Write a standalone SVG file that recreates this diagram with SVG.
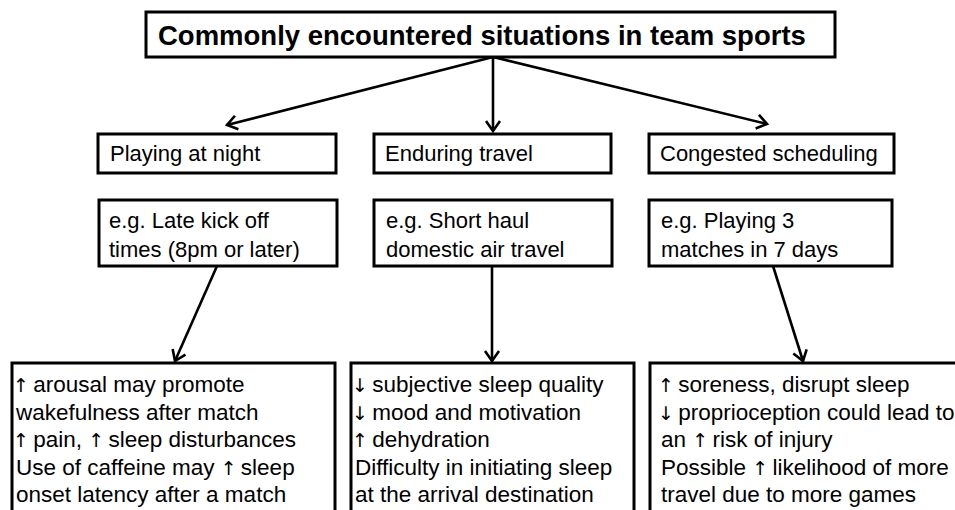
<svg xmlns="http://www.w3.org/2000/svg" width="955" height="510" viewBox="0 0 955 510">
<defs>
<style>
.box{fill:#fff;stroke:#000;stroke-width:3}
.t{font-family:"Liberation Sans",Arial,sans-serif;font-size:22px;fill:#000}
.b{font-family:"Liberation Sans",Arial,"DejaVu Sans",sans-serif;font-size:22.5px;fill:#000}
.ar{font-family:"DejaVu Sans",sans-serif;font-size:19px;letter-spacing:-2px;fill:#000}
.title{font-family:"Liberation Sans",Arial,sans-serif;font-size:27.5px;font-weight:bold;fill:#000}
.c{stroke:#000;stroke-width:2.6;fill:none}
</style>
<marker id="ah" markerUnits="userSpaceOnUse" viewBox="-12 -10 14 20" markerWidth="14" markerHeight="20" refX="0" refY="0" orient="auto" overflow="visible">
<path d="M-10,-7 L0,0 L-10,7" fill="none" stroke="#000" stroke-width="2.6" stroke-linejoin="miter"/>
</marker>
</defs>
<rect width="955" height="510" fill="#fff"/>
<g id="connectors">
<line class="c" x1="493" y1="57" x2="227" y2="125" marker-end="url(#ah)"/>
<line class="c" x1="493" y1="57" x2="493" y2="131" marker-end="url(#ah)"/>
<line class="c" x1="493" y1="57" x2="767" y2="124" marker-end="url(#ah)"/>
<line class="c" x1="217" y1="266" x2="175" y2="361" marker-end="url(#ah)"/>
<line class="c" x1="492" y1="266" x2="492" y2="361" marker-end="url(#ah)"/>
<line class="c" x1="773" y1="266" x2="803" y2="361" marker-end="url(#ah)"/>
</g>
<g id="title">
<rect class="box" x="146" y="12" width="689" height="45"/>
<text class="title" x="158" y="45">Commonly encountered situations in team sports</text>
</g>
<g id="night">
<rect class="box" x="98" y="134" width="238" height="39"/>
<text class="t" x="110" y="161">Playing at night</text>
</g>
<g id="travel">
<rect class="box" x="374" y="134" width="237" height="39"/>
<text class="t" x="385" y="161">Enduring travel</text>
</g>
<g id="congested">
<rect class="box" x="649" y="134" width="245" height="39"/>
<text class="t" x="660" y="161">Congested scheduling</text>
</g>
<g id="eg-night">
<rect class="box" x="99" y="200" width="238" height="66"/>
<text class="t" x="109" y="228">e.g. Late kick off</text>
<text class="t" x="109" y="257">times (8pm or later)</text>
</g>
<g id="eg-travel">
<rect class="box" x="374" y="200" width="238" height="66"/>
<text class="t" x="386" y="228">e.g. Short haul</text>
<text class="t" x="386" y="257">domestic air travel</text>
</g>
<g id="eg-congested">
<rect class="box" x="649" y="200" width="243" height="66"/>
<text class="t" x="661" y="228">e.g. Playing 3</text>
<text class="t" x="661" y="257">matches in 7 days</text>
</g>
<g id="effects-night">
<rect class="box" x="12" y="363" width="323" height="160"/>
<text class="b" x="13" y="392"><tspan class="ar">↑</tspan> arousal may promote</text>
<text class="b" x="16" y="419.5">wakefulness after match</text>
<text class="b" x="13" y="447"><tspan class="ar">↑</tspan> pain, <tspan class="ar">↑</tspan> sleep disturbances</text>
<text class="b" x="16" y="474.5">Use of caffeine may <tspan class="ar">↑</tspan> sleep</text>
<text class="b" x="16" y="502">onset latency after a match</text>
</g>
<g id="effects-travel">
<rect class="box" x="351" y="363" width="283" height="160"/>
<text class="b" x="352" y="392"><tspan class="ar">↓</tspan> subjective sleep quality</text>
<text class="b" x="352" y="419.5"><tspan class="ar">↓</tspan> mood and motivation</text>
<text class="b" x="352" y="447"><tspan class="ar">↑</tspan> dehydration</text>
<text class="b" x="355" y="474.5">Difficulty in initiating sleep</text>
<text class="b" x="355" y="502">at the arrival destination</text>
</g>
<g id="effects-congested">
<rect class="box" x="650" y="363" width="320" height="160"/>
<text class="b" x="658" y="392"><tspan class="ar">↑</tspan> soreness, disrupt sleep</text>
<text class="b" x="658" y="419.5"><tspan class="ar">↓</tspan> proprioception could lead to</text>
<text class="b" x="661" y="447">an <tspan class="ar">↑</tspan> risk of injury</text>
<text class="b" x="661" y="474.5">Possible <tspan class="ar">↑</tspan> likelihood of more</text>
<text class="b" x="661" y="502">travel due to more games</text>
</g>
</svg>
